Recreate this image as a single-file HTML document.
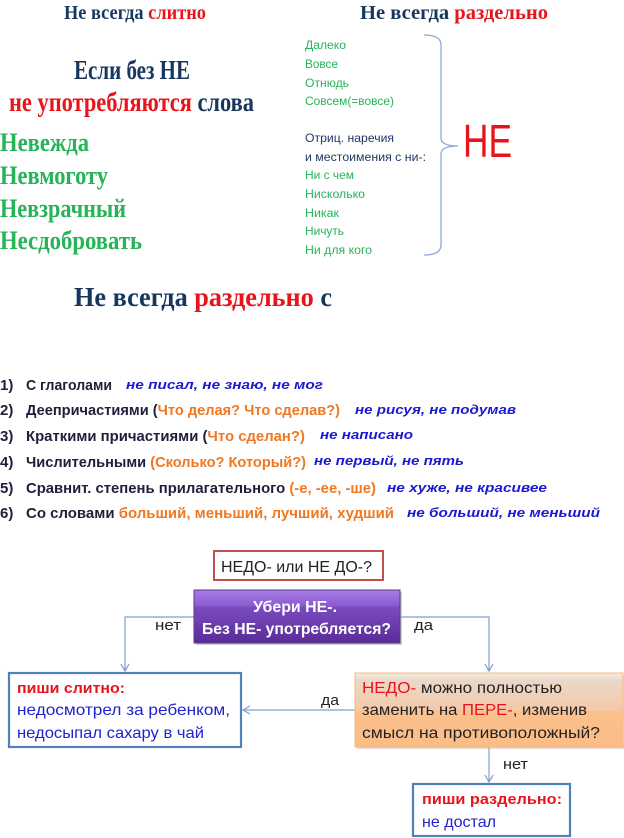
<!DOCTYPE html>
<html><head><meta charset="utf-8"><style>
html,body{margin:0;padding:0;background:#fff;}
svg{display:block}
.s{font-family:"Liberation Serif",serif;font-weight:bold}
.a{font-family:"Liberation Sans",sans-serif}
</style></head><body>
<svg width="624" height="838" viewBox="0 0 624 838" xmlns="http://www.w3.org/2000/svg">
<defs>
<linearGradient id="pg" x1="0" y1="0" x2="0" y2="1">
<stop offset="0" stop-color="#a77ce6"/><stop offset="0.3" stop-color="#8a5bd0"/><stop offset="0.32" stop-color="#7a4cc0"/><stop offset="1" stop-color="#5a2c98"/></linearGradient>
<linearGradient id="og" x1="0" y1="0" x2="0" y2="1">
<stop offset="0" stop-color="#f3eee0"/><stop offset="0.1" stop-color="#ead8c8"/><stop offset="0.5" stop-color="#f3c9a8"/><stop offset="0.52" stop-color="#fbc08c"/><stop offset="1" stop-color="#fbbd88"/></linearGradient>
<marker id="ar" markerWidth="10" markerHeight="10" refX="8" refY="5" orient="auto" markerUnits="userSpaceOnUse">
<path d="M1,1 L8,5 L1,9" fill="none" stroke="#7c9fcf" stroke-width="1.2"/></marker>
</defs>

<text class="s" x="64" y="19" font-size="20" fill="#17375e" textLength="142" lengthAdjust="spacingAndGlyphs">Не всегда <tspan fill="#e8141c">слитно</tspan></text>
<text class="s" x="360" y="19" font-size="20" fill="#17375e" textLength="188" lengthAdjust="spacingAndGlyphs">Не всегда <tspan fill="#e8141c">раздельно</tspan></text>

<text class="s" x="74" y="79" font-size="27" fill="#17375e" textLength="116" lengthAdjust="spacingAndGlyphs">Если без НЕ</text>
<text class="s" x="9" y="111" font-size="27" fill="#e8141c" textLength="245" lengthAdjust="spacingAndGlyphs">не употребляются <tspan fill="#17375e">слова</tspan></text>

<g class="s" font-size="26" fill="#27b35a">
<text x="0" y="151" textLength="89" lengthAdjust="spacingAndGlyphs">Невежда</text>
<text x="0" y="184" textLength="108" lengthAdjust="spacingAndGlyphs">Невмоготу</text>
<text x="0" y="217" textLength="126" lengthAdjust="spacingAndGlyphs">Невзрачный</text>
<text x="0" y="249" textLength="142" lengthAdjust="spacingAndGlyphs">Несдобровать</text>
</g>

<g class="a" font-size="12" fill="#27b35a">
<text x="305" y="49" textLength="41" lengthAdjust="spacingAndGlyphs">Далеко</text>
<text x="305" y="68" textLength="33" lengthAdjust="spacingAndGlyphs">Вовсе</text>
<text x="305" y="87" textLength="44" lengthAdjust="spacingAndGlyphs">Отнюдь</text>
<text x="305" y="105" textLength="89" lengthAdjust="spacingAndGlyphs">Совсем(=вовсе)</text>
<text x="305" y="142" fill="#1f3864" textLength="89" lengthAdjust="spacingAndGlyphs">Отриц. наречия</text>
<text x="305" y="161" fill="#1f3864" textLength="121" lengthAdjust="spacingAndGlyphs">и местоимения с ни-:</text>
<text x="305" y="179" textLength="49" lengthAdjust="spacingAndGlyphs">Ни с чем</text>
<text x="305" y="198" textLength="60" lengthAdjust="spacingAndGlyphs">Нисколько</text>
<text x="305" y="217" textLength="34" lengthAdjust="spacingAndGlyphs">Никак</text>
<text x="305" y="235" textLength="39" lengthAdjust="spacingAndGlyphs">Ничуть</text>
<text x="305" y="254" textLength="67" lengthAdjust="spacingAndGlyphs">Ни для кого</text>
</g>
<path d="M424,35 Q441,35 441,45 L441,138 Q441,146 458,146 Q441,146 441,154 L441,245 Q441,255 424,255" fill="none" stroke="#8eaad6" stroke-width="1.3"/>
<text class="a" x="463" y="157" font-size="46" fill="#e8141c" textLength="49" lengthAdjust="spacingAndGlyphs">НЕ</text>

<text class="s" x="74" y="306" font-size="27" fill="#17375e" textLength="258" lengthAdjust="spacingAndGlyphs">Не всегда <tspan fill="#e8141c">раздельно</tspan> с</text>

<g class="a" font-weight="bold" font-size="15" fill="#1f1f3a">
<text x="0" y="390">1)</text><text x="0" y="415">2)</text><text x="0" y="441">3)</text><text x="0" y="467">4)</text><text x="0" y="493">5)</text><text x="0" y="518">6)</text>
<text x="26" y="390" textLength="86" lengthAdjust="spacingAndGlyphs">С глаголами</text>
<text x="26" y="415" textLength="314" lengthAdjust="spacingAndGlyphs">Деепричастиями (<tspan fill="#f07820">Что делая? Что сделав?)</tspan></text>
<text x="26" y="441" textLength="279" lengthAdjust="spacingAndGlyphs">Краткими причастиями (<tspan fill="#f07820">Что сделан?)</tspan></text>
<text x="26" y="467" textLength="280" lengthAdjust="spacingAndGlyphs">Числительными <tspan fill="#f07820">(Сколько? Который?)</tspan></text>
<text x="26" y="493" textLength="350" lengthAdjust="spacingAndGlyphs">Сравнит. степень прилагательного <tspan fill="#f07820">(-е, -ее, -ше)</tspan></text>
<text x="26" y="518" textLength="368" lengthAdjust="spacingAndGlyphs">Со словами <tspan fill="#f07820">больший, меньший, лучший, худший</tspan></text>
</g>
<g class="a" font-weight="bold" font-style="italic" font-size="13" fill="#1a1ad0">
<text x="126" y="389" textLength="197" lengthAdjust="spacingAndGlyphs">не писал, не знаю, не мог</text>
<text x="355" y="414" textLength="161" lengthAdjust="spacingAndGlyphs">не рисуя, не подумав</text>
<text x="320" y="439" textLength="93" lengthAdjust="spacingAndGlyphs">не написано</text>
<text x="314" y="465" textLength="150" lengthAdjust="spacingAndGlyphs">не первый, не пять</text>
<text x="387" y="492" textLength="160" lengthAdjust="spacingAndGlyphs">не хуже, не красивее</text>
<text x="407" y="517" textLength="193" lengthAdjust="spacingAndGlyphs">не больший, не меньший</text>
</g>

<rect x="214" y="551" width="169" height="29" fill="#fff" stroke="#c0504d" stroke-width="2"/>
<text class="a" x="221" y="572" font-size="16" fill="#222" textLength="151" lengthAdjust="spacingAndGlyphs">НЕДО- или НЕ ДО-?</text>

<path d="M194,617 L125,617 L125,671" fill="none" stroke="#7c9fcf" stroke-width="1.2" marker-end="url(#ar)"/>
<path d="M400,617 L489,617 L489,671" fill="none" stroke="#7c9fcf" stroke-width="1.2" marker-end="url(#ar)"/>
<rect x="196" y="592" width="206" height="53" fill="#9a9aa8" opacity="0.5"/>
<rect x="194" y="590" width="206" height="53" fill="url(#pg)" stroke="#5a3a8a" stroke-width="1"/>
<g class="a" font-weight="bold" font-size="16" fill="#fff">
<text x="253" y="612" textLength="84" lengthAdjust="spacingAndGlyphs">Убери НЕ-.</text>
<text x="202" y="634" textLength="189" lengthAdjust="spacingAndGlyphs">Без НЕ- употребляется?</text>
</g>
<g class="a" font-size="15" fill="#222">
<text x="155" y="630" textLength="26" lengthAdjust="spacingAndGlyphs">нет</text>
<text x="414" y="630" textLength="19" lengthAdjust="spacingAndGlyphs">да</text>
<text x="321" y="705" textLength="18" lengthAdjust="spacingAndGlyphs">да</text>
<text x="503" y="769" textLength="25" lengthAdjust="spacingAndGlyphs">нет</text>
</g>

<rect x="9" y="673" width="232" height="74" fill="#fff" stroke="#4f81bd" stroke-width="2.2"/>
<text class="a" x="17" y="693" font-size="15" font-weight="bold" fill="#e8141c" textLength="108" lengthAdjust="spacingAndGlyphs">пиши слитно:</text>
<text class="a" x="17" y="715" font-size="16" fill="#2222cc" textLength="213" lengthAdjust="spacingAndGlyphs">недосмотрел за ребенком,</text>
<text class="a" x="17" y="738" font-size="16" fill="#2222cc" textLength="187" lengthAdjust="spacingAndGlyphs">недосыпал сахару в чай</text>

<path d="M355,710 L243,710" fill="none" stroke="#7c9fcf" stroke-width="1.2" marker-end="url(#ar)"/>
<path d="M489,747 L489,782" fill="none" stroke="#7c9fcf" stroke-width="1.2" marker-end="url(#ar)"/>

<rect x="357" y="675" width="267" height="74" fill="#c8b8a8" opacity="0.5"/>
<rect x="355" y="673" width="268" height="74" fill="url(#og)" stroke="#f5b880" stroke-width="1"/>
<g class="a" font-size="16" fill="#222">
<text x="362" y="693" textLength="200" lengthAdjust="spacingAndGlyphs"><tspan fill="#e8141c">НЕДО-</tspan> можно полностью</text>
<text x="362" y="715" textLength="225" lengthAdjust="spacingAndGlyphs">заменить на <tspan fill="#e8141c">ПЕРЕ-</tspan>, изменив</text>
<text x="362" y="738" textLength="238" lengthAdjust="spacingAndGlyphs">смысл на противоположный?</text>
</g>

<rect x="413" y="784" width="157" height="52" fill="#fff" stroke="#4f81bd" stroke-width="2.2"/>
<text class="a" x="422" y="804" font-size="15" font-weight="bold" fill="#e8141c" textLength="140" lengthAdjust="spacingAndGlyphs">пиши раздельно:</text>
<text class="a" x="422" y="827" font-size="16" fill="#2222cc" textLength="74" lengthAdjust="spacingAndGlyphs">не достал</text>
</svg>
</body></html>
